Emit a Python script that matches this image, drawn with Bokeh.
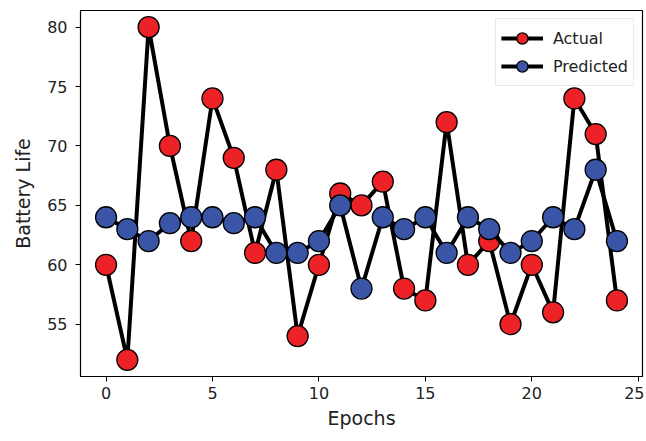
from bokeh.plotting import figure
from bokeh.models import Range1d, FixedTicker, Legend, LegendItem, ColumnDataSource
from bokeh.embed import file_html
from bokeh.resources import INLINE

epochs = list(range(25))
actual = [60, 52, 80, 70, 62, 74, 69, 61, 68, 54, 60, 66, 65, 67, 58, 57, 72, 60, 62, 55, 60, 56, 74, 71, 57]
predicted = [64, 63, 62, 63.5, 64, 64, 63.5, 64, 61, 61, 62, 65, 58, 64, 63, 64, 61, 64, 63, 61, 62, 64, 63, 68, 62]
x_ticks = [0, 5, 10, 15, 20, 25]
y_ticks = [55, 60, 65, 70, 75, 80]

FONT = "DejaVu Sans"

p = figure(width=644, height=433, output_backend="svg", toolbar_location=None,
           x_range=Range1d(-1.2, 25.2), y_range=Range1d(50.6, 81.4),
           min_border_left=80, min_border_top=10, min_border_right=2, min_border_bottom=57)
p.xgrid.visible = False
p.ygrid.visible = False
p.outline_line_color = "black"
p.outline_line_width = 1.2

src = ColumnDataSource(dict(x=epochs, a=actual, b=predicted))

la = p.line("x", "a", source=src, line_color="black", line_width=4)
sa = p.scatter("x", "a", source=src, size=21, fill_color="#ec2227", line_color="black", line_width=1.3)
lb = p.line("x", "b", source=src, line_color="black", line_width=4)
sb = p.scatter("x", "b", source=src, size=21, fill_color="#3a55a6", line_color="black", line_width=1.3)

legend = Legend(items=[LegendItem(label="Actual", renderers=[la, sa]),
                       LegendItem(label="Predicted", renderers=[lb, sb])],
                location="top_right")
legend.label_text_font = FONT
legend.label_text_font_size = "16px"
legend.label_text_color = "#222222"
legend.glyph_width = 42
legend.glyph_height = 28
legend.label_height = 20
legend.label_standoff = 10
legend.spacing = -5
legend.padding = 5
legend.margin = 8
legend.border_line_color = "#d0d0d0"
legend.border_line_width = 1
legend.background_fill_alpha = 0.9
p.add_layout(legend)

for ax, ticks, lab in ((p.xaxis, x_ticks, "Epochs"), (p.yaxis, y_ticks, "Battery Life")):
    ax.ticker = FixedTicker(ticks=ticks)
    ax.axis_label = lab
    ax.axis_label_text_font = FONT
    ax.axis_label_text_font_size = "19px"
    ax.axis_label_text_font_style = "normal"
    ax.axis_label_text_color = "#222222"
    ax.major_label_text_font = FONT
    ax.major_label_text_font_size = "16px"
    ax.major_label_text_color = "#222222"
    ax.major_tick_out = 5
    ax.major_tick_in = 0
    ax.minor_tick_out = 0
    ax.minor_tick_in = 0
    ax.axis_line_color = "black"
    ax.major_tick_line_color = "black"

p.yaxis.major_label_standoff = 8
p.yaxis.axis_label_standoff = 10

open("out.html", "w").write(file_html(p, INLINE))
